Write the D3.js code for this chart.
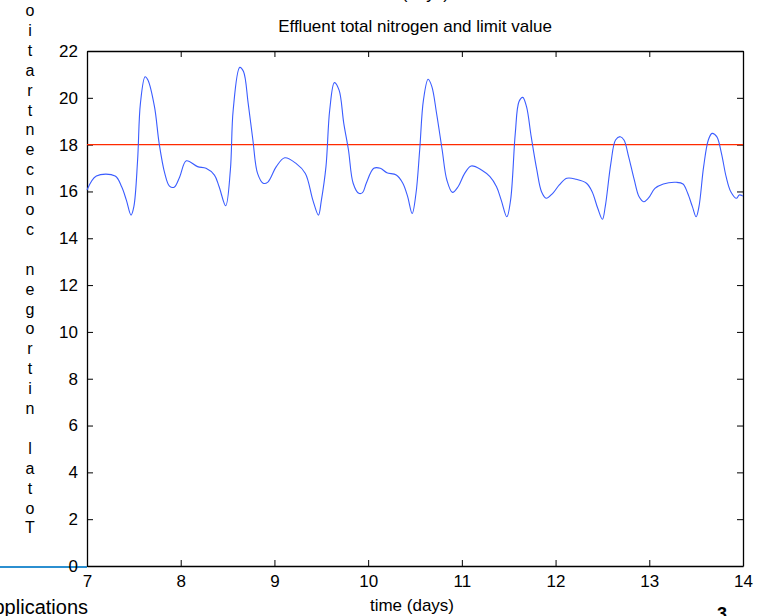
<!DOCTYPE html>
<html>
<head>
<meta charset="utf-8">
<script src="https://cdn.jsdelivr.net/npm/d3@7"></script>
<style>
  body { margin: 0; background: #fff; }
  text { font-family: "Liberation Sans", Arial, sans-serif; fill: #000; }
</style>
</head>
<body>
<script>
// effluent total nitrogen
var days = [7.00, 7.10, 7.30, 7.37, 7.42, 7.47, 7.50, 7.54, 7.57, 7.62, 7.65, 7.72, 7.77, 7.83, 7.88, 7.93, 7.99,
  8.06, 8.18, 8.27, 8.36, 8.41, 8.48, 8.53, 8.56, 8.63, 8.67, 8.72, 8.77, 8.82, 8.88, 8.93,
  9.02, 9.11, 9.23, 9.33, 9.41, 9.47, 9.50, 9.55, 9.59, 9.64, 9.69, 9.74, 9.79, 9.84, 9.90, 9.94, 9.98,
  10.06, 10.13, 10.20, 10.30, 10.37, 10.42, 10.47, 10.51, 10.55, 10.59, 10.64, 10.68, 10.73, 10.79, 10.84, 10.90, 10.96,
  11.03, 11.10, 11.21, 11.30, 11.37, 11.42, 11.48, 11.52, 11.57, 11.61, 11.65, 11.69, 11.74, 11.80, 11.85, 11.90, 11.97,
  12.04, 12.12, 12.22, 12.33, 12.39, 12.45, 12.50, 12.53, 12.59, 12.64, 12.69, 12.73, 12.78, 12.84, 12.89, 12.94, 12.99,
  13.06, 13.15, 13.29, 13.36, 13.41, 13.46, 13.50, 13.53, 13.58, 13.63, 13.67, 13.72, 13.77, 13.82, 13.87, 13.93, 13.96, 14.00];
var nitrogen = [16.06, 16.66, 16.66, 16.2, 15.63, 14.99, 15.35, 17.34, 19.76, 20.9, 20.76, 19.62, 18.05, 16.77, 16.23, 16.18, 16.63,
  17.31, 17.06, 16.99, 16.7, 16.2, 15.39, 16.92, 19.48, 21.3, 21.12, 19.76, 18.2, 16.77, 16.35, 16.4,
  17.06, 17.44, 17.2, 16.77, 15.63, 14.99, 15.6, 17.06, 19.48, 20.65, 20.33, 18.91, 17.77, 16.35, 15.92, 15.95, 16.35,
  16.99, 16.99, 16.8, 16.7, 16.35, 15.8, 15.06, 15.9, 17.77, 19.9, 20.79, 20.48, 19.34, 17.77, 16.49, 15.96, 16.2,
  16.77, 17.09, 16.92, 16.63, 16.2, 15.63, 14.92, 15.63, 18.48, 19.84, 20.02, 19.62, 18.34, 16.92, 15.99, 15.71, 15.92,
  16.28, 16.56, 16.52, 16.35, 15.99, 15.28, 14.81, 15.35, 17.2, 18.2, 18.34, 18.2, 17.48, 16.49, 15.78, 15.56, 15.71,
  16.13, 16.32, 16.39, 16.32, 15.92, 15.35, 14.92, 15.35, 17.06, 18.2, 18.48, 18.34, 17.63, 16.63, 15.99, 15.71, 15.85, 15.8];
var limitValue = 18;
var xTicks = [7, 8, 9, 10, 11, 12, 13, 14];
var yTicks = [0, 2, 4, 6, 8, 10, 12, 14, 16, 18, 20, 22];
var title = "Effluent total nitrogen and limit value";
var xLabel = "time (days)";
var yLabel = "Total nitrogen concentratio";

function drawChart() {
  var width = 767, height = 616;
  var mLeft = 87, mRight = 743, mTop = 51, mBottom = 566;

  var svg = d3.select("body").append("svg")
    .attr("width", width)
    .attr("height", height);

  var x = d3.scaleLinear().domain([7, 14]).range([mLeft, mRight]);
  var y = d3.scaleLinear().domain([0, 22]).range([mBottom, mTop]);

  // slide leftovers round the plot
  svg.append("text").attr("x", 407).attr("y", -1).attr("text-anchor", "middle")
    .style("font-size", "17px").text(xLabel);
  svg.append("line").attr("x1", 0).attr("x2", mLeft).attr("y1", mBottom + 1).attr("y2", mBottom + 1)
    .attr("stroke", "#2b8fd0").attr("stroke-width", 2);
  svg.append("text").attr("x", 88).attr("y", 614).attr("text-anchor", "end")
    .style("font-size", "20px").text("Applications");
  svg.append("text").attr("x", 722).attr("y", 620).attr("text-anchor", "middle")
    .style("font-size", "18px").style("font-weight", "bold").text("3");

  // axes, MATLAB style box with inward ticks
  svg.append("g").attr("transform", "translate(0," + mBottom + ")")
    .call(d3.axisBottom(x).tickValues(xTicks).tickFormat(d3.format("d"))
      .tickSizeInner(-6).tickSizeOuter(0).tickPadding(9));
  svg.append("g").attr("transform", "translate(0," + mTop + ")")
    .call(d3.axisTop(x).tickValues(xTicks).tickSizeInner(-6).tickSizeOuter(0).tickFormat(""));
  svg.append("g").attr("transform", "translate(" + mLeft + ",0)")
    .call(d3.axisLeft(y).tickValues(yTicks).tickFormat(d3.format("d"))
      .tickSizeInner(-6).tickSizeOuter(0).tickPadding(9));
  svg.append("g").attr("transform", "translate(" + mRight + ",0)")
    .call(d3.axisRight(y).tickValues(yTicks).tickSizeInner(-6).tickSizeOuter(0).tickFormat(""));

  svg.selectAll(".domain").attr("stroke", "#000").attr("stroke-width", 1.3);
  svg.selectAll(".tick line").attr("stroke", "#000");
  svg.selectAll(".tick text").style("font-size", "17px")
    .style("font-family", "'Liberation Sans', Arial, sans-serif").attr("fill", "#000");

  // limit
  svg.append("line")
    .attr("x1", x(7)).attr("x2", x(14))
    .attr("y1", y(limitValue)).attr("y2", y(limitValue))
    .attr("stroke", "#ff2a00").attr("stroke-width", 1.2);

  // nitrogen curve
  var line = d3.line()
    .x(function(d, i) { return x(days[i]); })
    .y(function(d) { return y(d); })
    .curve(d3.curveCatmullRom.alpha(0.5));

  svg.append("path").datum(nitrogen)
    .attr("d", line)
    .attr("fill", "none")
    .attr("stroke", "#3a5cff")
    .attr("stroke-width", 1.1);

  // title and labels
  svg.append("text").attr("x", 415).attr("y", 32).attr("text-anchor", "middle")
    .style("font-size", "17px").text(title);
  svg.append("text").attr("x", 412).attr("y", 611).attr("text-anchor", "middle")
    .style("font-size", "17px").text(xLabel);

  // y label drawn as upright letters, last letter on top
  var letters = yLabel.split("").reverse();
  svg.selectAll(".ylab").data(letters).enter()
    .append("text")
    .attr("class", "ylab")
    .attr("x", 30)
    .attr("y", function(d, i) { return 16 + i * 19.9; })
    .attr("text-anchor", "middle")
    .style("font-size", "16px")
    .text(function(d) { return d; });
}

drawChart();
</script>
</body>
</html>
